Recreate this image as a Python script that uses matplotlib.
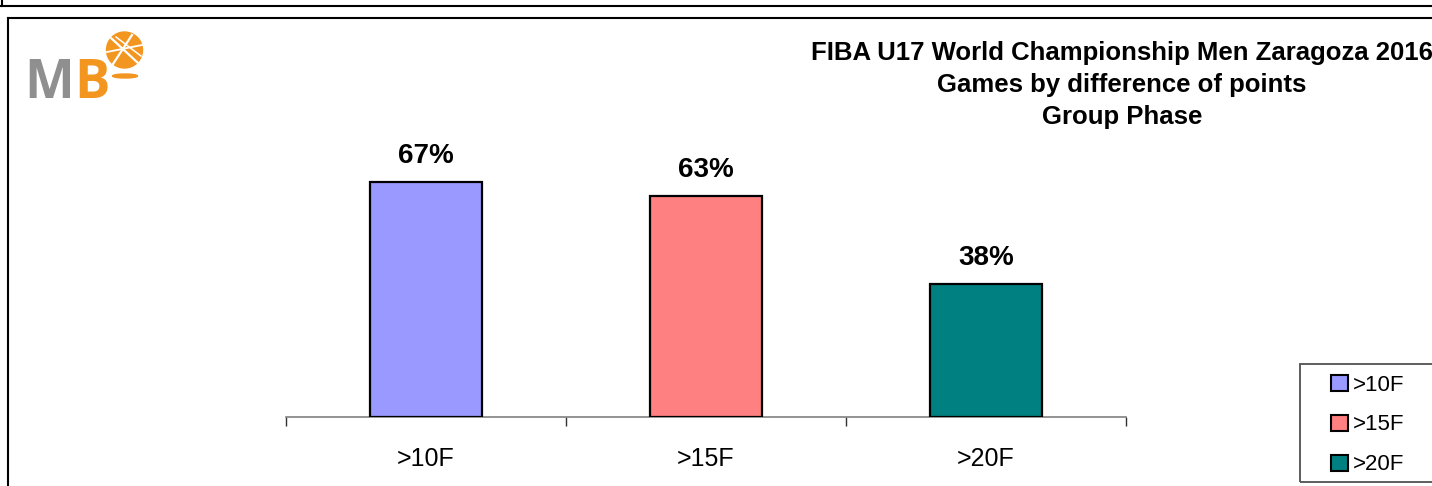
import matplotlib
matplotlib.use("Agg")
import matplotlib.pyplot as plt
from matplotlib.patches import Rectangle, Circle, Ellipse
from matplotlib.lines import Line2D

categories = [">10F", ">15F", ">20F"]
values = [67, 63, 38]
colors = ["#9999ff", "#ff8080", "#008080"]
title_lines = ["FIBA U17 World Championship Men Zaragoza 2016",
               "Games by difference of points",
               "Group Phase"]

plt.rcParams['font.family'] = ['Liberation Sans', 'DejaVu Sans']

W, H = 1432, 486
fig = plt.figure(figsize=(W / 100, H / 100), dpi=100)
fig.patch.set_facecolor("white")

def fx(px):
    return px / W

def fy(py):
    return 1 - py / H

# frames
fig.add_artist(Line2D([0, 1], [fy(6), fy(6)], color="black", lw=1.5, transform=fig.transFigure))
fig.add_artist(Line2D([fx(1.5), fx(1.5)], [1, fy(6)], color="black", lw=1.5, transform=fig.transFigure))
fig.add_artist(Line2D([fx(8), 1], [fy(18), fy(18)], color="black", lw=1.5, transform=fig.transFigure))
fig.add_artist(Line2D([fx(8), fx(8)], [fy(18), 0], color="black", lw=1.5, transform=fig.transFigure))

# axes
ymax = 80
ax = fig.add_axes([fx(286), fy(417), fx(1126) - fx(286), (417 - 136) / H])
x = list(range(len(categories)))
bars = ax.bar(x, values, width=0.4, color=colors, edgecolor="black", linewidth=1.6, zorder=3)
ax.set_xlim(-0.5, len(categories) - 0.5)
ax.set_ylim(0, ymax)
for s in ["top", "right", "left"]:
    ax.spines[s].set_visible(False)
ax.spines["bottom"].set_color("#808080")
ax.spines["bottom"].set_linewidth(1.2)
ax.set_yticks([])
ax.set_xticks([i - 0.5 for i in range(len(categories) + 1)])
ax.set_xticklabels([])
ax.tick_params(axis="x", which="major", direction="out", length=6.5, width=1, color="#303030")
ax.set_xticks(x, minor=True)
ax.set_xticklabels(categories, minor=True, fontsize=18)
ax.tick_params(axis="x", which="minor", length=0, pad=21.5)

for xi, v in zip(x, values):
    ax.annotate(f"{v}%", (xi, v), xytext=(0, 18.5), textcoords="offset points",
                ha="center", va="center", fontsize=20, fontweight="bold")

# title
for i, line in enumerate(title_lines):
    fig.text(fx(1122), fy(53 + 32 * i), line, ha="center", va="center",
             fontsize=18.5, fontweight="bold")

# legend
fig.add_artist(Rectangle((fx(1300), fy(482)), fx(160), (482 - 364) / H, transform=fig.transFigure,
                         facecolor="none", edgecolor="#505050", linewidth=1.3))
handles = [Rectangle((0, 0), 1, 1, facecolor=c, edgecolor="black", linewidth=1.5) for c in colors]
leg = fig.legend(handles, categories, loc="center left", bbox_to_anchor=(fx(1331), fy(425)),
                 fontsize=16, handlelength=0.75, handleheight=0.75, handletextpad=0.25,
                 labelspacing=0.85, borderpad=0, frameon=False, borderaxespad=0)

# logo
fig.text(fx(24), fy(98), "M", color="#8f8f8f", fontsize=38, fontweight="bold",
         ha="left", va="baseline", family="Open Sans")
fig.text(fx(74), fy(98), "B", color="#f29620", fontsize=38, fontweight="bold",
         ha="left", va="baseline", family="Open Sans")
lax = fig.add_axes([0, 0, 1, 1])
lax.set_xlim(0, W)
lax.set_ylim(H, 0)
lax.axis("off")
lax.set_zorder(5)
lax.add_patch(Circle((124.5, 50), 18, color="#f29620"))
lax.plot([111, 138], [38, 63], color="white", lw=1.6)
lax.plot([113, 132], [64, 35], color="white", lw=1.6)
lax.plot([107, 142], [52, 45], color="white", lw=1.3)
lax.plot([116, 141], [37, 56], color="white", lw=1.1)
lax.add_patch(Ellipse((125, 76), 25, 4, color="#f29620"))

fig.savefig("out.png", dpi=100)
